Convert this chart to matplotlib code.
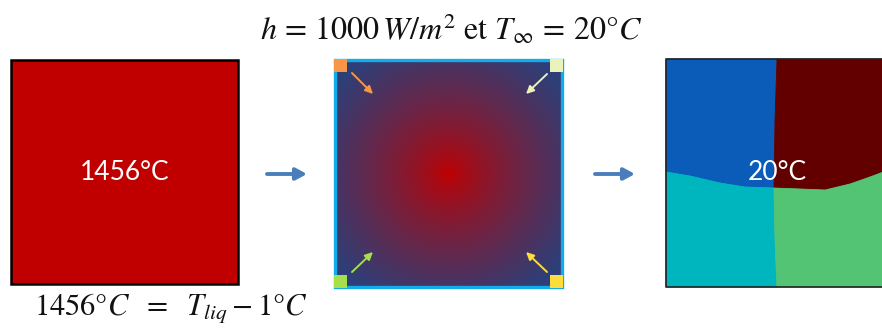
import numpy as np
import matplotlib as mpl
mpl.use('Agg')
import matplotlib.pyplot as plt
from matplotlib.patches import Rectangle, FancyArrowPatch
from matplotlib.colors import to_rgb

plt.rcParams['mathtext.fontset'] = 'stix'

# texts
title_txt = r'$h\, =\, 1000\,W/m^2\ \mathrm{et}\ T_\infty\, =\, 20°C$'
bottom_txt = r'$1456°C\ \ =\ \ T_{liq} - 1°C$'
labels = ['1456°C', '20°C']

# colours
hot_red = '#C00000'
grad_edge = '#2E3F78'
corner_cols = ['#F79646', '#EBF2BA', '#A6DE4C', '#FCDD3C']   # TL, TR, BL, BR
grain_cols = ['#0A5CB8', '#620000', '#00B6BE', '#52C474']    # TL, TR, BL, BR

# grain boundaries in square 3 (pixel coords)
hb_x = [666, 690, 720, 745, 774, 800, 825, 850, 870, 886]
hb_y = [172, 176, 183, 187, 188, 189, 190, 184, 177, 171]
vb_top_x = [777, 775, 774]
vb_top_y = [59, 120, 188]
vb_bot_x = [774, 775, 777]
vb_bot_y = [188, 240, 287]

W, H = 882, 329
fig = plt.figure(figsize=(W / 100, H / 100), dpi=100)
ax = fig.add_axes([0, 0, 1, 1])
ax.set_xlim(0, W)
ax.set_ylim(H, 0)
ax.axis('off')

# square 1
ax.add_patch(Rectangle((11, 60), 227, 224, facecolor=hot_red, edgecolor='black', lw=1.8))
ax.text(125, 172, labels[0], color='white', fontsize=19, family='Lato',
        ha='center', va='center')

def big_arrow(x0, x1, y):
    ax.add_patch(FancyArrowPatch((x0, y), (x1, y), arrowstyle='-|>,head_length=6.5,head_width=3.5',
                                 color='#4A7EBB', lw=2.8, mutation_scale=1,
                                 shrinkA=0, shrinkB=0))

big_arrow(267, 307, 174)
big_arrow(595, 635, 174)

# square 2 : radial gradient
x0, y0, s = 335, 60, 227
n = 300
gx, gy = np.meshgrid(np.linspace(-1, 1, n), np.linspace(-1, 1, n))
r = np.sqrt(gx ** 2 + gy ** 2)
t = np.clip(r / 1.25, 0, 1) ** 0.8
c0 = np.array(to_rgb(hot_red))
c1 = np.array(to_rgb(grad_edge))
img = c0[None, None, :] * (1 - t[..., None]) + c1[None, None, :] * t[..., None]
ax.imshow(img, extent=(x0, x0 + s, y0 + s, y0), interpolation='bilinear', zorder=1)
ax.add_patch(Rectangle((x0, y0), s, s, facecolor='none', edgecolor='#12ACEB', lw=2.4, zorder=3))

cs = 13
corners = [(x0 - 1, y0 - 1), (x0 + s - cs + 1, y0 - 1),
           (x0 - 1, y0 + s - cs + 1), (x0 + s - cs + 1, y0 + s - cs + 1)]
for (cx, cy), col in zip(corners, corner_cols):
    ax.add_patch(Rectangle((cx, cy), cs, cs, facecolor=col, edgecolor='none', zorder=4))

arrows = [((352, 73), (373, 94)), ((547, 74), (526, 94)),
          ((352, 272), (373, 252)), ((547, 272), (526, 252))]
for (p0, p1), col in zip(arrows, corner_cols):
    ax.add_patch(FancyArrowPatch(p0, p1, arrowstyle='-|>,head_length=4.5,head_width=2.2',
                                 color=col, lw=1.4, mutation_scale=1, zorder=4,
                                 shrinkA=0, shrinkB=0))

# square 3 : grains
L, T, B, R = 666, 59, 287, 890
hb = list(zip(hb_x, hb_y))
def hb_y_at(x):
    return np.interp(x, hb_x, hb_y)
top_left = [(L, T), (vb_top_x[0], T)] + list(zip(vb_top_x, vb_top_y))[1:] + \
           [(x, y) for x, y in hb if x < vb_top_x[-1]][::-1]
top_right = [(vb_top_x[0], T), (R, T), (R, hb_y_at(R))] + \
            [(x, y) for x, y in hb if x > vb_top_x[-1]][::-1] + list(zip(vb_top_x, vb_top_y))[::-1]
bot_left = [(x, y) for x, y in hb if x < vb_bot_x[0]] + list(zip(vb_bot_x, vb_bot_y)) + [(L, B)]
bot_right = list(zip(vb_bot_x, vb_bot_y)) + [(R, B), (R, hb_y_at(R))] + \
            [(x, y) for x, y in hb if x > vb_bot_x[0]][::-1]
for poly, col in zip([top_left, top_right, bot_left, bot_right], grain_cols):
    px, py = zip(*poly)
    ax.fill(px, py, color=col, lw=0.6, ec=col, zorder=2)
ax.plot([R, L, L, R], [T, T, B, B], color='#222222', lw=1.2, zorder=3)
ax.text(777, 173, labels[1], color='white', fontsize=19, family='Lato',
        ha='center', va='center', zorder=5)

# formulas
ax.text(451, 29, title_txt, fontsize=23, ha='center', va='center', color='#111111')
ax.text(171, 309, bottom_txt, fontsize=22, ha='center', va='center', color='#111111')

fig.savefig('out.png', dpi=100)
